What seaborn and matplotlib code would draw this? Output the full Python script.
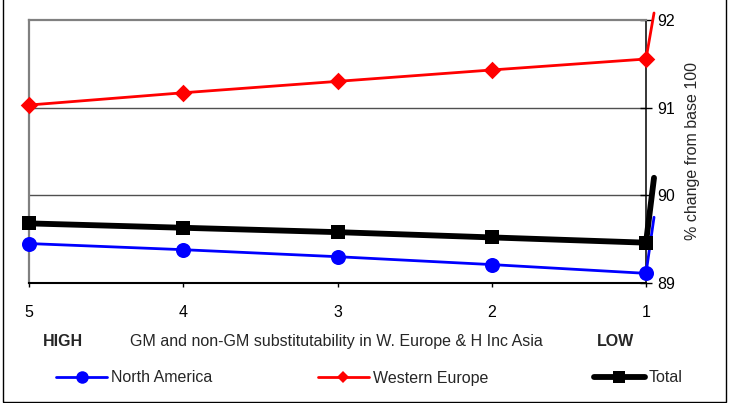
import matplotlib
matplotlib.use('Agg')
import matplotlib.pyplot as plt
import seaborn as sns
import pandas as pd
from matplotlib.lines import Line2D
from matplotlib.patches import Rectangle

# ---------------- data ----------------
levels = [5, 4, 3, 2, 1]
north_america = [89.45, 89.38, 89.30, 89.21, 89.11]
western_europe = [91.03, 91.17, 91.30, 91.43, 91.555]
total = [89.68, 89.63, 89.58, 89.52, 89.46]
# trailing point the original chart draws just right of level 1
spike_level = 0.948
spike_north_america = 89.75
spike_western_europe = 92.08
spike_total = 90.20

series_names = ['North America', 'Western Europe', 'Total']
y_ticks = [89, 90, 91, 92]
x_tick_labels = ['5', '4', '3', '2', '1']
x_label = 'GM and non-GM substitutability in W. Europe & H Inc Asia'
y_label = '% change from base 100'
high_label = 'HIGH'
low_label = 'LOW'

# ---------------- tables ----------------
values = {'North America': north_america,
          'Western Europe': western_europe,
          'Total': total}
spikes = {'North America': spike_north_america,
          'Western Europe': spike_western_europe,
          'Total': spike_total}
rows, line_rows = [], []
for name in series_names:
    for lv, v in zip(levels, values[name]):
        rows.append({'level': lv, 'value': v, 'series': name})
        line_rows.append({'level': lv, 'value': v, 'series': name})
    line_rows.append({'level': spike_level, 'value': spikes[name], 'series': name})
df = pd.DataFrame(rows)
df_line = pd.DataFrame(line_rows)

# ---------------- style ----------------
sns.set_style('white')
plt.rcParams['font.family'] = ['Liberation Sans', 'DejaVu Sans']
FS = 11.5

colors = {'North America': '#0000FF', 'Western Europe': '#FF0000', 'Total': '#000000'}
lws = {'North America': 2.0, 'Western Europe': 2.0, 'Total': 4.2}
markers = {'North America': 'o', 'Western Europe': 'D', 'Total': 's'}
msizes = {'North America': 117, 'Western Europe': 80, 'Total': 112}
order = ['North America', 'Western Europe', 'Total']

W, H = 735, 403
fig = plt.figure(figsize=(W / 100, H / 100), dpi=100)
L, R, T, B = 29, 646, 20, 283
ax = fig.add_axes([L / W, 1 - B / H, (R - L) / W, (B - T) / H])

for name in order:
    sub = df_line[df_line['series'] == name]
    sns.lineplot(data=sub, x='level', y='value', color=colors[name],
                 linewidth=lws[name], ax=ax, legend=False, sort=True,
                 estimator=None)
for name in order:
    sub = df[df['series'] == name]
    sns.scatterplot(data=sub, x='level', y='value', color=colors[name],
                    marker=markers[name], s=msizes[name], linewidth=0,
                    ax=ax, legend=False, zorder=5)
for ln in ax.lines:
    ln.set_clip_on(False)
for c in ax.collections:
    c.set_clip_on(False)

ax.set_xlim(5, 1)
ax.set_ylim(89, 92)
ax.set_xticks(levels)
ax.set_xticklabels(x_tick_labels)
ax.set_yticks(y_ticks)
ax.set_xlabel('')
ax.yaxis.tick_right()
ax.set_ylabel(y_label, fontsize=FS, rotation=90)
ax.yaxis.set_label_position('right')
ax.yaxis.set_label_coords((692 - L) / (R - L), 0.5)
ax.yaxis.label.set_va('center')
ax.yaxis.label.set_ha('center')

ax.tick_params(axis='y', which='major', direction='inout', length=8, width=1,
               colors='black', pad=4, labelsize=FS, right=True, left=False,
               labelright=True, labelleft=False)
ax.tick_params(axis='x', which='major', direction='out', length=3, width=1,
               colors='black', pad=12.5, labelsize=FS, bottom=True)

ax.grid(False)
for yv in [90, 91]:
    ax.axhline(yv, color='#505050', linewidth=1.0, zorder=0.5)

ax.spines['left'].set_color('#808080')
ax.spines['left'].set_linewidth(1.6)
ax.spines['top'].set_color('#808080')
ax.spines['top'].set_linewidth(1.6)
ax.spines['right'].set_color('black')
ax.spines['right'].set_linewidth(1.1)
ax.spines['bottom'].set_color('black')
ax.spines['bottom'].set_linewidth(1.5)
for s in ax.spines.values():
    s.set_zorder(1)
ax.set_facecolor('white')

# category description line
ty = 1 - 341.5 / H
fig.text(63.3 / W, ty, high_label, ha='center', va='center', fontsize=FS, fontweight='bold')
fig.text(336 / W, ty, x_label, ha='center', va='center', fontsize=FS)
fig.text(615.8 / W, ty, low_label, ha='center', va='center', fontsize=FS, fontweight='bold')

# legend
leg_ms = {'North America': 9, 'Western Europe': 6.5, 'Total': 9}
handles = [Line2D([0], [0], color=colors[n], linewidth=lws[n], marker=markers[n],
                  markersize=leg_ms[n], markeredgewidth=0) for n in order]
fig.legend(handles, order, loc='center left', bbox_to_anchor=(56 / W, 1 - 378 / H),
           ncol=3, frameon=False, borderpad=0, borderaxespad=0, fontsize=FS,
           handlelength=3.2, handletextpad=0.25, columnspacing=6.6, numpoints=1)

# outer chart border
fig.patches.append(Rectangle((2.5 / W, 1.5 / H), (726 - 2.5) / W, 1.2,
                             transform=fig.transFigure, fill=False,
                             edgecolor='black', linewidth=1.0, clip_on=False))

fig.savefig('out.png', dpi=100, facecolor='white')
